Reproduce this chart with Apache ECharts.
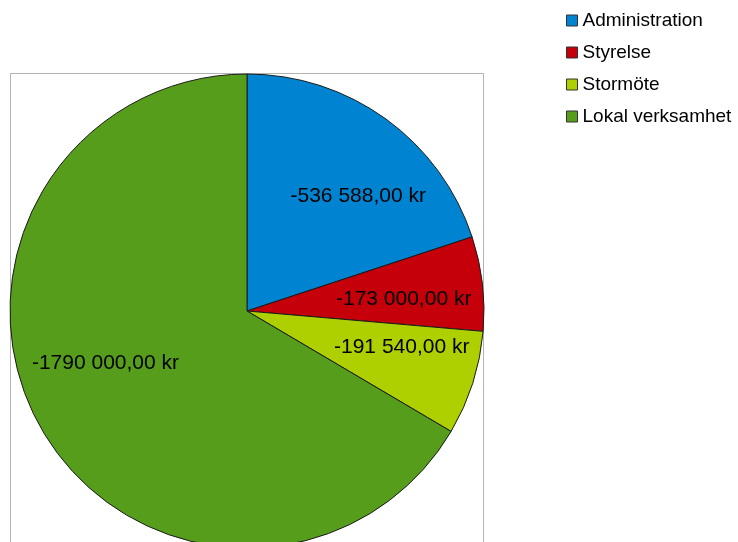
<!DOCTYPE html>
<html>
<head>
<meta charset="utf-8">
<script src="https://cdn.jsdelivr.net/npm/echarts@6/dist/echarts.min.js"></script>
<style>
  html, body { margin: 0; padding: 0; background: #fff; }
  #main { width: 738px; height: 542px; }
</style>
</head>
<body>
<div id="main"></div>
<script>
var categories = ['Administration', 'Styrelse', 'Stormöte', 'Lokal verksamhet'];
var values = [-536588, -173000, -191540, -1790000];
var colors = ['#0084d1', '#c5000b', '#aecf00', '#579d1c'];
// label nudges from the default inside spot (px)
var labelShift = [[40, -16], [36, 2], [39, -1], [-36, -8]];

function fmtKr(v) {
  var neg = v < 0;
  var s = Math.abs(v).toFixed(2).split('.');
  var ip = s[0];
  if (ip.length > 3) {
    ip = ip.slice(0, ip.length - 3) + ' ' + ip.slice(ip.length - 3);
  }
  return (neg ? '-' : '') + ip + ',' + s[1] + ' kr';
}

var pieData = categories.map(function (name, i) {
  return { name: name, value: Math.abs(values[i]), raw: values[i] };
});

var chartDom = document.getElementById('main');
var myChart = echarts.init(chartDom, null, { renderer: 'canvas' });

var option = {
  animation: false,
  color: colors,
  textStyle: { fontFamily: 'Liberation Sans, Arial, sans-serif' },
  graphic: [{
    type: 'rect',
    z: -10,
    silent: true,
    shape: { x: 10.5, y: 73.5, width: 473, height: 520 },
    style: { fill: 'none', stroke: '#b3b3b3', lineWidth: 1 }
  }],
  legend: {
    orient: 'vertical',
    left: 561,
    top: 6,
    itemWidth: 11,
    itemHeight: 11,
    itemGap: 13,
    icon: 'rect',
    itemStyle: { borderColor: '#333', borderWidth: 1 },
    textStyle: { fontSize: 19, color: '#000', fontFamily: 'Liberation Sans, Arial, sans-serif' },
    data: categories
  },
  series: [{
    type: 'pie',
    center: [247, 311],
    radius: [0, 237],
    startAngle: 90,
    clockwise: true,
    avoidLabelOverlap: false,
    itemStyle: { borderColor: '#1a1a1a', borderWidth: 1 },
    emphasis: { disabled: true },
    label: {
      show: true,
      position: 'inside',
      color: '#000',
      fontSize: 21,
      fontFamily: 'Liberation Sans, Arial, sans-serif',
      formatter: function (p) { return fmtKr(p.data.raw); }
    },
    labelLine: { show: false },
    labelLayout: function (p) {
      var d = labelShift[p.dataIndex];
      return { dx: d[0], dy: d[1] };
    },
    data: pieData
  }]
};

myChart.setOption(option);
</script>
</body>
</html>
